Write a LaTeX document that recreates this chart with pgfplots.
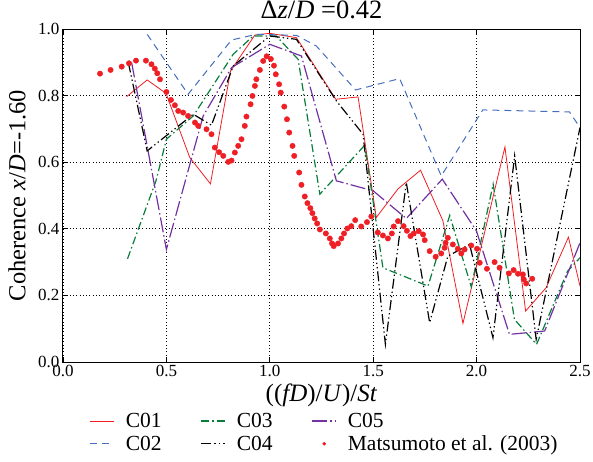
\documentclass[border=0pt]{standalone}
\usepackage{pgfplots}
\pgfplotsset{compat=1.18}
\usepackage{fontspec}
\setmainfont{Liberation Serif}
\definecolor{cOne}{RGB}{240,30,35}
\definecolor{cTwo}{RGB}{70,110,190}
\definecolor{cThree}{RGB}{10,125,60}
\definecolor{cFive}{RGB}{115,50,160}
\definecolor{mRed}{RGB}{238,32,38}
\begin{document}
\begin{tikzpicture}
\useasboundingbox (-63pt,-99pt) rectangle (530pt,362pt);
\begin{axis}[
 at={(0,0)}, anchor=south west,
 width=517pt, height=333pt, scale only axis,
 xmin=0, xmax=2.5, ymin=0, ymax=1,
 xtick={0,0.5,1,1.5,2,2.5}, ytick={0,0.2,0.4,0.6,0.8,1.0},
 xticklabel style={/pgf/number format/fixed,/pgf/number format/fixed zerofill,/pgf/number format/precision=1,/pgf/number format/assume math mode=true},
 yticklabel style={/pgf/number format/fixed,/pgf/number format/fixed zerofill,/pgf/number format/precision=1,/pgf/number format/assume math mode=true},
 tick label style={font=\fontsize{17}{17}\selectfont},
 grid=major, major grid style={black, line width=0.7pt, dash pattern=on 0.9pt off 2.4pt},
 tick align=inside, major tick length=5pt, tick style={black, line width=0.8pt},
 axis line style={line width=1pt},
 title={Δ\textit{z}/\textit{D} =0.42},
 title style={font=\fontsize{26.5}{28}\selectfont, at={(0.5,1)}, anchor=base, yshift=5pt, inner sep=0pt},
 xlabel={((\textit{fD})/\textit{U})/\textit{St}},
 xlabel style={font=\fontsize{25}{26}\selectfont, at={(axis description cs:0.5,-0.10)}, anchor=center},
 ylabel={Coherence \textit{x}/\textit{D}=-1.60},
 ylabel style={font=\fontsize{24.5}{26}\selectfont, at={(axis description cs:-0.089,0.5)}, anchor=center},
 legend columns=3, legend cell align=left,
 legend style={draw=none, fill=none, at={(0.506,-0.147)}, anchor=north, inner sep=0pt,
   font=\fontsize{21.5}{22}\selectfont,
   /tikz/every odd column/.append style={column sep=9pt},
   /tikz/every even column/.append style={column sep=37pt}, row sep=2.5pt},
]
% C01
\addplot[cOne, line width=0.8pt,
 legend image code/.code={\draw[draw=cOne, line width=0.8pt] (0pt,0pt) -- (24pt,0pt);}] coordinates {
(0.308,0.797)(0.407,0.847)(0.498,0.807)(0.613,0.614)(0.713,0.535)(0.81,0.874)(0.928,0.982)(1.0,0.987)(1.129,0.974)(1.319,0.789)(1.427,0.796)(1.515,0.434)(1.62,0.52)(1.729,0.576)(1.837,0.424)(1.934,0.116)(2.137,0.646)(2.237,0.153)(2.336,0.223)(2.444,0.375)(2.5,0.228)};
\addlegendentry{C01}
% C03
\addplot[cThree, line width=1.2pt, dash pattern=on 8pt off 3pt on 1.5pt off 3pt,
 legend image code/.code={\draw[draw=cThree, line width=1.2pt, dash pattern=on 8pt off 3pt on 1.5pt off 3pt] (0pt,0pt) -- (24pt,0pt);}] coordinates {
(0.312,0.31)(0.45,0.545)(0.5,0.669)(0.63,0.739)(0.823,0.924)(0.92,0.979)(1.031,0.979)(1.137,0.909)(1.242,0.504)(1.459,0.651)(1.547,0.283)(1.765,0.228)(1.87,0.44)(1.974,0.226)(2.08,0.534)(2.183,0.128)(2.29,0.053)(2.44,0.273)(2.5,0.313)};
\addlegendentry{C03}
% C05
\addplot[cFive, line width=1.2pt, dash pattern=on 15pt off 3pt on 1.5pt off 3pt,
 legend image code/.code={\draw[draw=cFive, line width=1.2pt, dash pattern=on 15pt off 3pt on 1.5pt off 3pt] (0pt,0pt) -- (24pt,0pt);}] coordinates {
(0.332,0.899)(0.5,0.338)(0.678,0.739)(0.815,0.884)(1.0,0.954)(1.153,0.919)(1.322,0.544)(1.5,0.514)(1.66,0.431)(1.834,0.549)(1.999,0.394)(2.159,0.083)(2.329,0.093)(2.5,0.358)};
\addlegendentry{C05}
% C02
\addplot[cTwo, line width=1.0pt, dash pattern=on 7pt off 5pt,
 legend image code/.code={\draw[draw=cTwo, line width=1.0pt, dash pattern=on 7pt off 5pt] (0pt,0pt) -- (24pt,0pt);}] coordinates {
(0.407,0.984)(0.605,0.804)(0.815,0.967)(0.935,0.984)(1.129,0.981)(1.225,0.949)(1.415,0.817)(1.628,0.851)(1.829,0.559)(2.03,0.757)(2.449,0.751)(2.5,0.704)};
\addlegendentry{C02}
% C04
\addplot[black, line width=1.2pt, dash pattern=on 10pt off 3pt on 1.3pt off 3pt on 1.3pt off 3pt,
 legend image code/.code={\draw[draw=black, line width=1.2pt, dash pattern=on 10pt off 3pt on 1.3pt off 3pt on 1.3pt off 3pt] (0pt,0pt) -- (24pt,0pt);}] coordinates {
(0.316,0.899)(0.407,0.634)(0.63,0.744)(0.718,0.711)(0.823,0.889)(1.0,0.979)(1.129,0.969)(1.322,0.784)(1.451,0.684)(1.559,0.053)(1.66,0.539)(1.773,0.118)(1.861,0.318)(1.966,0.353)(2.079,0.073)(2.184,0.619)(2.288,0.068)(2.5,0.704)};
\addlegendentry{C04}
% Matsumoto et al. (2003)
\addplot[only marks, mark=*, mark size=2.7pt, mRed, mark options={draw=mRed, fill=mRed},
 legend image code/.code={\fill[mRed] (12pt,0pt) circle (1.6pt);}] coordinates {
(0.179,0.866)(0.230,0.877)(0.284,0.887)(0.319,0.897)(0.353,0.905)(0.401,0.905)(0.428,0.894)(0.444,0.881)(0.456,0.867)(0.469,0.849)
(0.500,0.811)(0.522,0.787)(0.541,0.771)(0.557,0.754)(0.581,0.749)(0.605,0.739)(0.638,0.719)(0.654,0.709)(0.694,0.699)(0.718,0.684)
(0.734,0.644)(0.755,0.630)(0.775,0.619)(0.799,0.601)(0.815,0.605)(0.831,0.629)(0.847,0.649)(0.863,0.669)(0.879,0.709)(0.887,0.737)
(0.907,0.774)(0.916,0.799)(0.928,0.829)(0.935,0.849)(0.952,0.877)(0.968,0.904)(0.985,0.918)(1.005,0.910)(1.020,0.890)(1.029,0.864)
(1.045,0.834)(1.053,0.809)(1.070,0.767)(1.083,0.729)(1.094,0.689)(1.110,0.649)(1.118,0.619)(1.142,0.569)(1.153,0.532)(1.169,0.497)
(1.182,0.477)(1.196,0.462)(1.206,0.447)(1.217,0.431)(1.229,0.416)(1.242,0.398)(1.271,0.386)(1.290,0.371)(1.301,0.356)(1.309,0.348)
(1.330,0.356)(1.346,0.371)(1.359,0.386)(1.375,0.401)(1.394,0.408)(1.413,0.426)(1.442,0.407)(1.470,0.420)(1.491,0.437)(1.522,0.389)
(1.547,0.380)(1.571,0.371)(1.590,0.386)(1.599,0.407)(1.620,0.423)(1.647,0.408)(1.663,0.394)(1.680,0.378)(1.696,0.386)(1.720,0.393)
(1.741,0.383)(1.749,0.366)(1.773,0.333)(1.802,0.316)(1.829,0.326)(1.845,0.343)(1.850,0.358)(1.861,0.373)(1.885,0.353)(1.909,0.340)
(1.926,0.326)(1.942,0.338)(1.974,0.350)(2.002,0.340)(2.015,0.298)(2.050,0.280)(2.087,0.300)(2.111,0.283)(2.156,0.266)(2.179,0.276)
(2.200,0.265)(2.224,0.263)(2.228,0.248)(2.240,0.236)(2.269,0.250)};
\addlegendentry{Matsumoto et al. (2003)}
\end{axis}
\end{tikzpicture}
\end{document}
